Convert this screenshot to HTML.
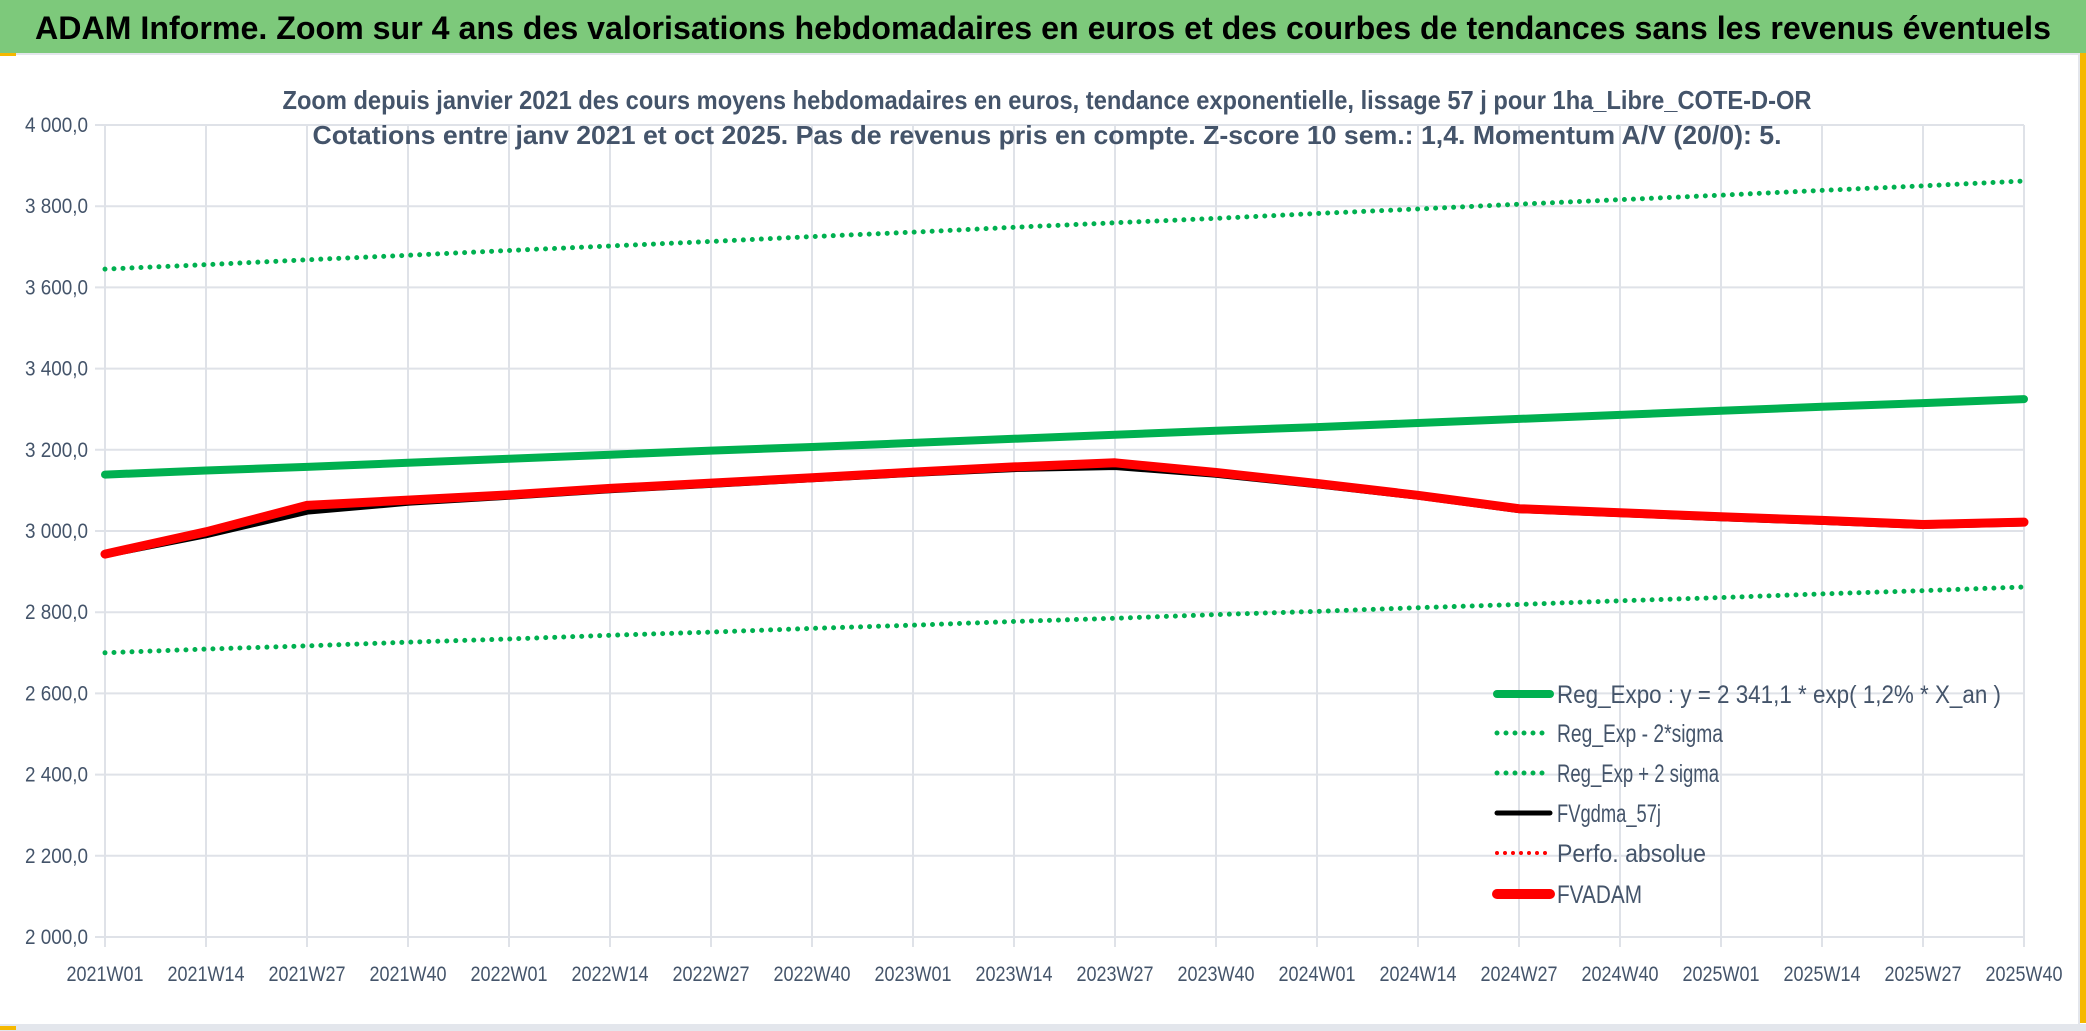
<!DOCTYPE html>
<html><head><meta charset="utf-8"><style>
body{margin:0;background:#fff;}
svg{display:block;font-family:"Liberation Sans",sans-serif;}
</style></head><body>
<svg width="2086" height="1031" xmlns="http://www.w3.org/2000/svg">
<rect x="0" y="0" width="2086" height="1031" fill="#fff"/>
<rect x="0" y="0" width="2086" height="53" fill="#7dc97b"/>
<text x="1043" y="39" text-anchor="middle" font-size="32" font-weight="bold" fill="#000" textLength="2016" lengthAdjust="spacingAndGlyphs">ADAM Informe. Zoom sur 4 ans des valorisations hebdomadaires en euros et des courbes de tendances sans les revenus éventuels</text>
<rect x="0" y="53" width="2080" height="2" fill="#e3e6ec"/>
<rect x="0" y="53" width="16" height="3" fill="#f5b800"/>
<rect x="2080" y="53" width="6" height="970" fill="#f5b800"/>
<rect x="2078" y="55" width="2" height="970" fill="#e3e6ec"/>
<rect x="0" y="1024" width="2086" height="7" fill="#e3e6ec"/>
<rect x="0" y="1026" width="16" height="4" fill="#f5b800"/>
<g id="grid"></g>
<text x="1047" y="109" text-anchor="middle" font-size="26" font-weight="bold" fill="#44546a" textLength="1529" lengthAdjust="spacingAndGlyphs">Zoom depuis janvier 2021 des cours moyens hebdomadaires en euros, tendance exponentielle, lissage 57 j pour 1ha_Libre_COTE-D-OR</text>
<text x="1047" y="144" text-anchor="middle" font-size="26" font-weight="bold" fill="#44546a" textLength="1469" lengthAdjust="spacingAndGlyphs">Cotations entre janv 2021 et oct 2025. Pas de revenus pris en compte. Z-score 10 sem.: 1,4. Momentum A/V (20/0): 5.</text>
<g id="series"></g>
<g id="legend" font-size="25" fill="#44546a">
<line x1="1497" y1="694" x2="1550" y2="694" stroke="#00b050" stroke-width="8" stroke-linecap="round"/>
<text x="1557" y="703" textLength="444" lengthAdjust="spacingAndGlyphs">Reg_Expo : y = 2 341,1 * exp( 1,2% *  X_an )</text>
<line x1="1497" y1="733" x2="1550" y2="733" stroke="#00b050" stroke-width="5" stroke-linecap="round" stroke-dasharray="0 9"/>
<text x="1557" y="742" textLength="166" lengthAdjust="spacingAndGlyphs">Reg_Exp - 2*sigma</text>
<line x1="1497" y1="773" x2="1550" y2="773" stroke="#00b050" stroke-width="5" stroke-linecap="round" stroke-dasharray="0 9"/>
<text x="1557" y="782" textLength="162" lengthAdjust="spacingAndGlyphs">Reg_Exp + 2 sigma</text>
<line x1="1497" y1="813" x2="1550" y2="813" stroke="#000" stroke-width="5" stroke-linecap="round"/>
<text x="1557" y="822" textLength="104" lengthAdjust="spacingAndGlyphs">FVgdma_57j</text>
<line x1="1497" y1="853" x2="1550" y2="853" stroke="#ff0000" stroke-width="4" stroke-linecap="round" stroke-dasharray="0 8"/>
<text x="1557" y="862" textLength="149" lengthAdjust="spacingAndGlyphs">Perfo. absolue</text>
<line x1="1497" y1="894" x2="1550" y2="894" stroke="#ff0000" stroke-width="10" stroke-linecap="round"/>
<text x="1557" y="903" textLength="85" lengthAdjust="spacingAndGlyphs">FVADAM</text>
</g>
</svg>
<script>
const categories=["2021W01","2021W14","2021W27","2021W40","2022W01","2022W14","2022W27","2022W40","2023W01","2023W14","2023W27","2023W40","2024W01","2024W14","2024W27","2024W40","2025W01","2025W14","2025W27","2025W40"];
const yTicks=[2000,2200,2400,2600,2800,3000,3200,3400,3600,3800,4000];
const yTickLabels=["2 000,0","2 200,0","2 400,0","2 600,0","2 800,0","3 000,0","3 200,0","3 400,0","3 600,0","3 800,0","4 000,0"];
const regExpo=[3139,3149,3158,3168,3178,3188,3198,3207,3217,3227,3237,3247,3256,3266,3276,3286,3296,3306,3315,3325];
const regPlus=[3645,3656,3668,3679,3691,3702,3713,3725,3736,3748,3759,3770,3782,3793,3805,3816,3827,3839,3850,3862];
const regMinus=[2700,2709,2717,2726,2734,2743,2751,2760,2768,2777,2785,2794,2802,2811,2819,2828,2836,2845,2853,2862];
const fvadam=[2943,2998,3063,3076,3089,3105,3118,3131,3145,3158,3168,3144,3117,3088,3055,3045,3035,3026,3016,3022];
const fvgdma=[2943,2992,3050,3072,3087,3103,3116,3130,3143,3155,3160,3141,3115,3087,3054,3044,3034,3025,3015,3021];
</script>
<script>
const NS="http://www.w3.org/2000/svg";
const X0=105,X1=2024,Y0=937,Y1=125;
function xs(i){return X0+(X1-X0)*i/(categories.length-1);}
function ys(v){return Y0-(v-2000)/2000*(Y0-Y1);}
function mk(t,a,p){const e=document.createElementNS(NS,t);for(const k in a)e.setAttribute(k,a[k]);p.appendChild(e);return e;}
const g=document.getElementById('grid');
yTicks.forEach((v,i)=>{
 const l=mk('line',{x1:X0-10,x2:X1,y1:ys(v),y2:ys(v),stroke:'#dfe2e8','stroke-width':2},g);
 
 
 const t=mk('text',{x:88,y:ys(v)+7,'text-anchor':'end','font-size':21,fill:'#44546a',textLength:63,lengthAdjust:'spacingAndGlyphs'},g);
 t.textContent=yTickLabels[i];
 
 
});
categories.forEach((c,i)=>{
 const x=xs(i);
 const l=mk('line',{x1:x,x2:x,y1:Y1,y2:Y0+10,stroke:'#dfe2e8','stroke-width':2},g);
 
 
 const t=mk('text',{x:x,y:981,'text-anchor':'middle','font-size':21,fill:'#44546a',textLength:77,lengthAdjust:'spacingAndGlyphs'},g);
 t.textContent=c;
 
 
});
const s=document.getElementById('series');
function path(arr,attrs,name){
 const d=arr.map((v,i)=>(i?'L':'M')+xs(i).toFixed(1)+' '+ys(v).toFixed(1)).join(' ');
 const p=mk('path',Object.assign({d:d,fill:'none','stroke-linejoin':'round','stroke-linecap':'round'},attrs),s);
 
 
}
path(regPlus,{stroke:'#00b050','stroke-width':5,'stroke-dasharray':'0 9'},'reg-plus-2sigma-line');
path(regMinus,{stroke:'#00b050','stroke-width':5,'stroke-dasharray':'0 9'},'reg-minus-2sigma-line');
path(regExpo,{stroke:'#00b050','stroke-width':8},'reg-expo-line');
path(fvgdma,{stroke:'#000','stroke-width':8},'fvgdma-line');
path(fvadam,{stroke:'#ff0000','stroke-width':9},'fvadam-line');
</script>
</body></html>
